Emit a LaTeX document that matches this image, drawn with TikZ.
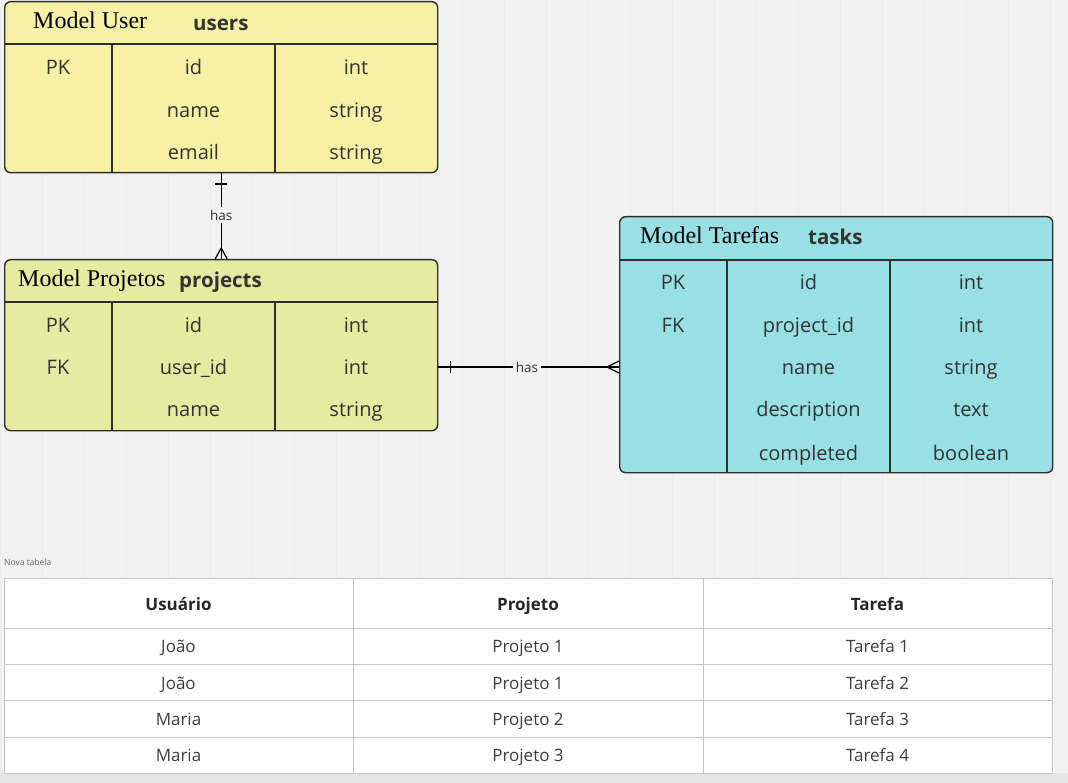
\documentclass[tikz,border=0pt]{standalone}
\usepackage{fontspec}
\setmainfont{Liberation Serif}
\newfontfamily\osans{Open Sans}
\definecolor{bgcol}{HTML}{F1F1F1}
\definecolor{gridcol}{HTML}{EBEBEB}
\definecolor{erdark}{HTML}{2E2E2A}
\definecolor{ertext}{HTML}{333331}
\definecolor{usercol}{HTML}{F6F1A4}
\definecolor{projcol}{HTML}{E4ECA2}
\definecolor{taskcol}{HTML}{98E0E4}
\definecolor{tabline}{HTML}{C4C4C4}
\definecolor{tabtext}{HTML}{3E3E3E}
\begin{document}
\begin{tikzpicture}[x=1pt,y=-1pt,
  erbox/.style={draw=erdark, line width=1.4pt, rounded corners=6pt, anchor=north west, inner sep=0pt},
  sepline/.style={draw=erdark, line width=1.4pt},
  cell/.style={font=\osans\fontsize{20}{24}\selectfont, text=ertext, inner sep=0pt, anchor=base},
  tname/.style={font=\osans\bfseries\fontsize{20.5}{24}\selectfont, text=ertext, inner sep=0pt, anchor=base west},
  model/.style={font=\fontsize{24}{28}\selectfont, text=black, inner sep=0pt, anchor=base west},
  conn/.style={draw=black, line width=1.2pt},
  rel/.style={font=\osans\fontsize{13.5}{16}\selectfont, text=ertext, fill=bgcol, inner sep=3pt},
  thead/.style={font=\osans\bfseries\fontsize{17}{20}\selectfont, text=black!85, inner sep=0pt, anchor=base},
  tcell/.style={font=\osans\fontsize{17}{20}\selectfont, text=tabtext, inner sep=0pt, anchor=base},
]
% canvas
\fill[bgcol] (0,0) rectangle (1068,783);
\useasboundingbox (0,0) rectangle (1068,783);
\draw[gridcol, line width=0.4pt, step=42] (0,0) grid (1068,783);
\fill[black!10] (0,773) rectangle (1068,783);

% ---------- users ----------
\node (users) [erbox, fill=usercol, minimum width=433, minimum height=171] at (4,1) {};
\draw[sepline] (4,44) -- (437,44);
\draw[sepline] (112,44) -- (112,172);
\draw[sepline] (275,44) -- (275,172);
\node (uModel) [model] at (33,29) {Model User};
\node (uName) [tname] at (193,31) {users};
\node (u11) [cell] at (58,75) {PK};
\node (u12) [cell] at (193.5,75) {id};
\node (u13) [cell] at (356,75) {int};
\node (u22) [cell] at (193.5,118) {name};
\node (u23) [cell] at (356,118) {string};
\node (u32) [cell] at (193.5,160) {email};
\node (u33) [cell] at (356,160) {string};

% ---------- projects ----------
\node (projects) [erbox, fill=projcol, minimum width=433, minimum height=171] at (4,259) {};
\draw[sepline] (4,302) -- (437,302);
\draw[sepline] (112,302) -- (112,430);
\draw[sepline] (275,302) -- (275,430);
\node (pModel) [model] at (18,287) {Model Projetos};
\node (pName) [tname] at (179,288) {projects};
\node (p11) [cell] at (58,333) {PK};
\node (p12) [cell] at (193.5,333) {id};
\node (p13) [cell] at (356,333) {int};
\node (p21) [cell] at (58,375) {FK};
\node (p22) [cell] at (193.5,375) {user\_id};
\node (p23) [cell] at (356,375) {int};
\node (p32) [cell] at (193.5,417) {name};
\node (p33) [cell] at (356,417) {string};

% ---------- tasks ----------
\node (tasks) [erbox, fill=taskcol, minimum width=433, minimum height=256] at (619,216) {};
\draw[sepline] (619,260) -- (1052,260);
\draw[sepline] (727,260) -- (727,472);
\draw[sepline] (890,260) -- (890,472);
\node (tModel) [model] at (640,244) {Model Tarefas};
\node (tName) [tname] at (808,245) {tasks};
\node (t11) [cell] at (673,290) {PK};
\node (t12) [cell] at (808.5,290) {id};
\node (t13) [cell] at (971,290) {int};
\node (t21) [cell] at (673,333) {FK};
\node (t22) [cell] at (808.5,333) {project\_id};
\node (t23) [cell] at (971,333) {int};
\node (t32) [cell] at (808.5,375) {name};
\node (t33) [cell] at (971,375) {string};
\node (t42) [cell] at (808.5,417) {description};
\node (t43) [cell] at (971,417) {text};
\node (t52) [cell] at (808.5,460) {completed};
\node (t53) [cell] at (971,460) {boolean};

% ---------- relationships ----------
% users (one) -- projects (many)
\coordinate (uA) at (users.south);
\coordinate (pA) at (projects.north);
\draw[conn] (uA) -- (pA);
\draw[conn] ([xshift=-6]uA |- 0,184) -- ([xshift=6]uA |- 0,184);
\draw[conn] ([xshift=-6]pA) -- ([yshift=11]pA) -- ([xshift=6]pA);
\node (rel1) [rel] at (uA |- 0,215) {has};

% projects (one) -- tasks (many)
\coordinate (rowY) at (0,367);
\coordinate (pB) at (projects.east |- rowY);
\coordinate (tB) at (tasks.west |- rowY);
\draw[conn] (pB) -- (tB);
\draw[conn] ([xshift=12]pB |- 0,361) -- ([xshift=12]pB |- 0,373);
\draw[conn] ([yshift=-6]tB) -- ([xshift=-12]tB) -- ([yshift=6]tB);
\node (rel2) [rel] at (527,367) {has};

% ---------- sample data table ----------
\node (caption) [font=\osans\fontsize{8.5}{10}\selectfont, text=black!60, anchor=west, inner sep=0pt] at (4,562) {Nova tabela};
\node (grid) [draw=tabline, fill=white, line width=0.8pt, anchor=north west, inner sep=0pt, minimum width=1048, minimum height=195] at (4,578) {};
\foreach \yy in {628,664,700,737} \draw[tabline, line width=0.8pt] (4,\yy) -- (1052,\yy);
\foreach \xx in {353,703} \draw[tabline, line width=0.8pt] (\xx,578) -- (\xx,773);
\node (h1) [thead] at (178.5,610) {Usuário};
\node (h2) [thead] at (528,610) {Projeto};
\node (h3) [thead] at (877.5,610) {Tarefa};
\node (r11) [tcell] at (178.5,652) {João};
\node (r12) [tcell] at (528,652) {Projeto 1};
\node (r13) [tcell] at (877.5,652) {Tarefa 1};
\node (r21) [tcell] at (178.5,689) {João};
\node (r22) [tcell] at (528,689) {Projeto 1};
\node (r23) [tcell] at (877.5,689) {Tarefa 2};
\node (r31) [tcell] at (178.5,725) {Maria};
\node (r32) [tcell] at (528,725) {Projeto 2};
\node (r33) [tcell] at (877.5,725) {Tarefa 3};
\node (r41) [tcell] at (178.5,761) {Maria};
\node (r42) [tcell] at (528,761) {Projeto 3};
\node (r43) [tcell] at (877.5,761) {Tarefa 4};
\end{tikzpicture}
\end{document}
